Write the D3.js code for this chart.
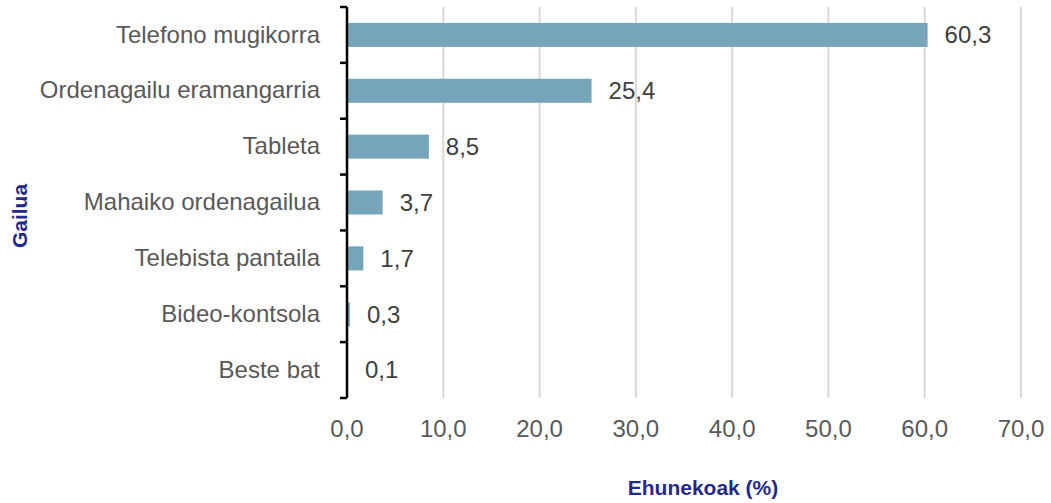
<!DOCTYPE html>
<html>
<head>
<meta charset="utf-8">
<script src="https://cdn.jsdelivr.net/npm/d3@7"></script>
<style>
  body { margin: 0; background: #fff; }
  text { font-family: "Liberation Sans", Arial, sans-serif; }
</style>
</head>
<body>
<div id="chart"></div>
<script>
// Data
var categories = ["Telefono mugikorra", "Ordenagailu eramangarria", "Tableta",
  "Mahaiko ordenagailua", "Telebista pantaila", "Bideo-kontsola", "Beste bat"];
var values = [60.3, 25.4, 8.5, 3.7, 1.7, 0.3, 0.1];
var xTicks = [0, 10, 20, 30, 40, 50, 60, 70];

var svgWidth = 1051, svgHeight = 503;
var margin = { top: 7, right: 30, bottom: 105, left: 347 };
var width = svgWidth - margin.left - margin.right;
var height = svgHeight - margin.top - margin.bottom;

var fmt = function(v) { return d3.format(".1f")(v).replace(".", ","); };

var svg = d3.select("#chart").append("svg")
  .attr("width", svgWidth)
  .attr("height", svgHeight);

var chartGroup = svg.append("g")
  .attr("transform", `translate(${margin.left}, ${margin.top})`);

var xScale = d3.scaleLinear().domain([0, 70]).range([0, 674]);
var yScale = d3.scaleBand().domain(categories).range([0, height]).paddingInner(0.57).paddingOuter(0.285);
var yBand = d3.scaleBand().domain(categories).range([0, height]);

// gridlines
chartGroup.selectAll(".grid")
  .data(xTicks.slice(1))
  .enter().append("line")
  .attr("x1", d => xScale(d)).attr("x2", d => xScale(d))
  .attr("y1", 0).attr("y2", height)
  .attr("stroke", "#d9d9d9").attr("stroke-width", 2);

// x tick labels
chartGroup.selectAll(".xlab")
  .data(xTicks)
  .enter().append("text")
  .attr("x", d => xScale(d))
  .attr("y", height + 39)
  .attr("text-anchor", "middle")
  .attr("font-size", "24px")
  .attr("fill", "#595959")
  .text(fmt);

// bars
chartGroup.selectAll("rect")
  .data(values)
  .enter().append("rect")
  .attr("x", 0)
  .attr("y", (d, i) => yScale(categories[i]))
  .attr("width", d => xScale(d))
  .attr("height", yScale.bandwidth())
  .attr("fill", "#76a5b9");

// value labels
chartGroup.selectAll(".vlab")
  .data(values)
  .enter().append("text")
  .attr("x", d => xScale(d) + 17)
  .attr("y", (d, i) => yBand(categories[i]) + yBand.bandwidth() / 2)
  .attr("dy", "0.35em")
  .attr("font-size", "24px")
  .attr("fill", "#404040")
  .text(fmt);

// left axis with ticks at category boundaries
var leftAxis = d3.axisLeft(yBand).tickSize(0).tickPadding(27);
var axisG = chartGroup.append("g").call(leftAxis);
axisG.select(".domain").remove();
axisG.selectAll("text")
  .attr("font-size", "24px")
  .attr("fill", "#595959")
  .style("font-family", "Liberation Sans, Arial, sans-serif");

chartGroup.append("line")
  .attr("x1", 0).attr("x2", 0).attr("y1", 0).attr("y2", height)
  .attr("stroke", "#000").attr("stroke-width", 2.5);

var bounds = categories.map(c => yBand(c)).concat([height]);
chartGroup.selectAll(".ytick")
  .data(bounds)
  .enter().append("line")
  .attr("x1", -7).attr("x2", 0)
  .attr("y1", d => d).attr("y2", d => d)
  .attr("stroke", "#000").attr("stroke-width", 2.5);

// axis titles
svg.append("text")
  .attr("x", 703).attr("y", 495)
  .attr("text-anchor", "middle")
  .attr("font-size", "21px")
  .attr("font-weight", "bold")
  .attr("fill", "#1f2a8c")
  .text("Ehunekoak (%)");

svg.append("text")
  .attr("transform", "translate(27, 216) rotate(-90)")
  .attr("text-anchor", "middle")
  .attr("font-size", "21px")
  .attr("font-weight", "bold")
  .attr("fill", "#1f2a8c")
  .text("Gailua");
</script>
</body>
</html>
